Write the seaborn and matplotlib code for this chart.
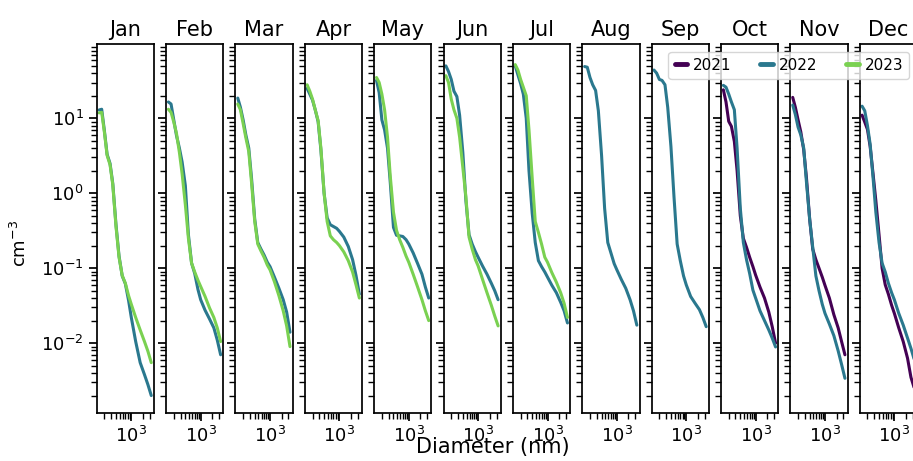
import numpy as np
import pandas as pd
import matplotlib
matplotlib.use("Agg")
import matplotlib.pyplot as plt
import seaborn as sns
from matplotlib.lines import Line2D

months = ["Jan", "Feb", "Mar", "Apr", "May", "Jun", "Jul", "Aug", "Sep", "Oct", "Nov", "Dec"]
years = ["2021", "2022", "2023"]
year_colors = ["#440154", "#2a788e", "#7ad151"]
diameter_nm = [145, 170, 200, 235, 280, 330, 400, 480, 580, 700, 850, 1000, 1300, 1700, 2200, 2700, 3300]

jan_2022 = [12.9, 13.2, 6.8, 3.3, 2.5, 1.35, 0.38, 0.145, 0.079, 0.062, 0.037, 0.022, 0.0105, 0.0055, 0.0038, 0.0028, 0.002]
jan_2023 = [11.8, 12.0, 6.5, 3.2, 2.4, 1.3, 0.36, 0.14, 0.08, 0.063, 0.043, 0.033, 0.022, 0.015, 0.0105, 0.0078, 0.0055]
feb_2022 = [16.5, 15.5, 9.5, 5.9, 4.0, 2.6, 1.26, 0.28, 0.117, 0.085, 0.052, 0.038, 0.0275, 0.021, 0.016, 0.011, 0.007]
feb_2023 = [13.2, 12.0, 8.9, 6.3, 3.5, 1.8, 0.7, 0.25, 0.117, 0.089, 0.069, 0.057, 0.042, 0.0295, 0.022, 0.016, 0.0105]
mar_2022 = [18.6, 14, 9.5, 6, 4.0, 1.6, 0.45, 0.22, 0.18, 0.15, 0.12, 0.105, 0.076, 0.054, 0.038, 0.026, 0.014]
mar_2023 = [15.5, 13, 8.5, 5.5, 3.6, 1.4, 0.42, 0.21, 0.17, 0.14, 0.11, 0.095, 0.066, 0.043, 0.027, 0.017, 0.009]
apr_2022 = [25, 21, 17.5, 13, 9, 3.8, 1.0, 0.47, 0.38, 0.36, 0.34, 0.31, 0.26, 0.195, 0.13, 0.08, 0.045]
apr_2023 = [28, 23, 18, 13, 9.3, 4, 1.0, 0.42, 0.27, 0.24, 0.22, 0.2, 0.165, 0.126, 0.089, 0.06, 0.04]
may_2022 = [32, 22, 9.5, 7, 4, 1.4, 0.35, 0.275, 0.27, 0.265, 0.24, 0.21, 0.16, 0.115, 0.083, 0.056, 0.04]
may_2023 = [35, 30, 21, 13, 5.6, 1.7, 0.56, 0.32, 0.24, 0.19, 0.145, 0.12, 0.083, 0.056, 0.038, 0.027, 0.02]
jun_2022 = [50, 42, 33, 23, 19.5, 11, 3.5, 0.8, 0.28, 0.21, 0.166, 0.14, 0.107, 0.083, 0.063, 0.05, 0.038]
jun_2023 = [37, 30, 18, 13, 10, 5.6, 2.2, 0.9, 0.26, 0.18, 0.13, 0.107, 0.071, 0.047, 0.032, 0.023, 0.017]
jul_2022 = [50, 38, 29, 21, 10, 2.0, 0.54, 0.22, 0.126, 0.105, 0.089, 0.076, 0.059, 0.047, 0.035, 0.027, 0.0186]
jul_2023 = [52, 44, 33, 26, 20, 7, 1.6, 0.42, 0.30, 0.21, 0.14, 0.12, 0.087, 0.065, 0.047, 0.034, 0.022]
aug_2022 = [49, 48, 35, 28, 23.5, 12.6, 3.2, 0.63, 0.22, 0.16, 0.115, 0.095, 0.071, 0.054, 0.038, 0.027, 0.0174]
sep_2022 = [44, 40, 33, 32, 28, 14, 4.2, 0.9, 0.21, 0.126, 0.079, 0.06, 0.042, 0.034, 0.028, 0.022, 0.0166]
oct_2021 = [24, 16.5, 9.1, 7.8, 4.9, 2.0, 0.5, 0.25, 0.19, 0.14, 0.105, 0.081, 0.056, 0.04, 0.026, 0.0166, 0.01]
oct_2022 = [27.5, 26, 21, 16.5, 13, 4, 0.63, 0.22, 0.13, 0.085, 0.051, 0.04, 0.027, 0.02, 0.015, 0.0117, 0.0089]
nov_2021 = [19, 14, 9.5, 6.6, 3.8, 1.6, 0.45, 0.18, 0.13, 0.1, 0.076, 0.059, 0.04, 0.024, 0.016, 0.0105, 0.007]
nov_2022 = [15, 11.2, 7.6, 6.0, 4.0, 1.4, 0.45, 0.19, 0.079, 0.05, 0.033, 0.025, 0.018, 0.0126, 0.0079, 0.0052, 0.0034]
dec_2021 = [11, 8.9, 7.1, 4.2, 1.8, 0.8, 0.28, 0.1, 0.06, 0.045, 0.032, 0.025, 0.016, 0.0105, 0.0063, 0.0035, 0.0025]
dec_2022 = [14.5, 12.6, 8, 4.5, 1.6, 0.56, 0.22, 0.117, 0.089, 0.063, 0.047, 0.038, 0.025, 0.0174, 0.0117, 0.0085, 0.006]

series = [
    ("Jan", "2022", jan_2022), ("Jan", "2023", jan_2023),
    ("Feb", "2022", feb_2022), ("Feb", "2023", feb_2023),
    ("Mar", "2022", mar_2022), ("Mar", "2023", mar_2023),
    ("Apr", "2022", apr_2022), ("Apr", "2023", apr_2023),
    ("May", "2022", may_2022), ("May", "2023", may_2023),
    ("Jun", "2022", jun_2022), ("Jun", "2023", jun_2023),
    ("Jul", "2022", jul_2022), ("Jul", "2023", jul_2023),
    ("Aug", "2022", aug_2022),
    ("Sep", "2022", sep_2022),
    ("Oct", "2021", oct_2021), ("Oct", "2022", oct_2022),
    ("Nov", "2021", nov_2021), ("Nov", "2022", nov_2022),
    ("Dec", "2021", dec_2021), ("Dec", "2022", dec_2022),
]

rows = []
for m, yr, vals in series:
    for d, v in zip(diameter_nm, vals):
        rows.append({"month": m, "year": yr, "diameter": d, "conc": v})
df = pd.DataFrame(rows)

palette = dict(zip(years, year_colors))

sns.set_theme(context="notebook", style="ticks")
plt.rcParams["font.family"] = ["DejaVu Sans"]
plt.rcParams["axes.edgecolor"] = "black"
plt.rcParams["xtick.color"] = "black"
plt.rcParams["ytick.color"] = "black"
plt.rcParams["text.color"] = "black"
plt.rcParams["axes.labelcolor"] = "black"
plt.rcParams["xtick.labelsize"] = 13
plt.rcParams["ytick.labelsize"] = 13

fig, axes = plt.subplots(1, 12, figsize=(9.13, 4.61), dpi=100, sharex=True, sharey=True)
fig.subplots_adjust(left=0.1059, right=1.0044, bottom=0.1041, top=0.9046, wspace=0.211)

for ax, m in zip(axes, months):
    sub = df[df["month"] == m]
    present = [y for y in years if y in set(sub["year"])]
    sns.lineplot(data=sub, x="diameter", y="conc", hue="year", hue_order=present,
                 palette=palette, linewidth=2.2, legend=False, ax=ax)
    ax.set_xscale("log")
    ax.set_yscale("log")
    ax.set_title(m, fontsize=15, color="black")
    ax.set_xlabel("")
    ax.set_ylabel("")

axes[0].set_xlim(126, 3880)
axes[0].set_ylim(0.00117, 98)

handles = [Line2D([], [], color=c, lw=3.5) for c in year_colors]
axes[-1].legend(handles, years, loc="upper right", ncol=3, fontsize=11,
                handlelength=0.8, handletextpad=0.4, columnspacing=1.9, frameon=True)

fig.text(20 / 913, 1 - 243 / 461, "cm$^{-3}$", rotation=90, ha="center", va="center", fontsize=13)
fig.text(493 / 913, (461 - 453) / 461, "Diameter (nm)", ha="center", va="baseline", fontsize=15)

fig.savefig("out.png", dpi=100)
